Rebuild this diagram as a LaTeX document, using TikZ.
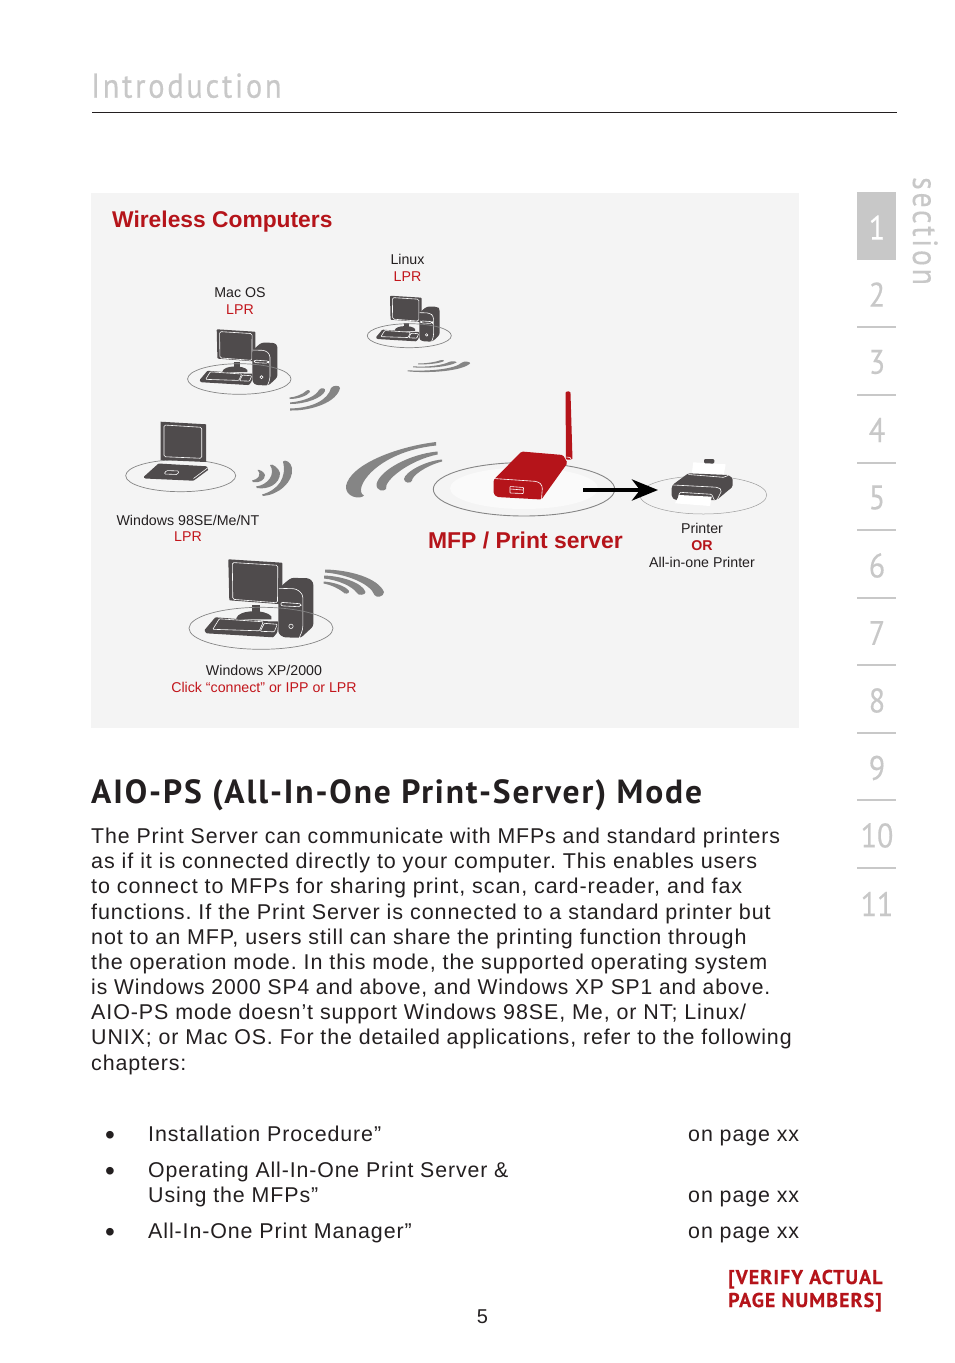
\documentclass[tikz,border=0pt]{standalone}
\usepackage{fontspec}
\setmainfont{Liberation Sans}
\newfontfamily\bodyfont[LetterSpace=4.2]{Liberation Sans}
\newfontfamily\dinfont[LetterSpace=8,FakeStretch=.88,FakeBold=.4]{PT Sans}
\newfontfamily\secfont[LetterSpace=8,FakeStretch=.85,FakeBold=.2]{PT Sans}
\newfontfamily\dinhead[LetterSpace=5.6,BoldFont={PT Sans Bold}]{PT Sans}
\newfontfamily\dinfoot[LetterSpace=5.2,BoldFont={PT Sans Bold},BoldFeatures={FakeBold=.3}]{PT Sans}
\newfontfamily\dinnum[FakeStretch=.88,FakeBold=.3]{PT Sans}
\usetikzlibrary{shapes.geometric,arrows.meta,calc}
\definecolor{panel}{HTML}{F4F4F4}
\definecolor{brick}{HTML}{B5141A}
\definecolor{labelred}{HTML}{C2161C}
\definecolor{ink}{HTML}{231F20}
\definecolor{icon}{HTML}{4F4B4C}
\definecolor{wavec}{HTML}{858585}
\definecolor{tabgrey}{HTML}{C8C8C8}
\tikzset{
 x=1pt,y=-1pt,
 lab/.style={font=\fontsize{14.2}{17}\selectfont,text=ink,align=center,inner sep=0pt},
 redlab/.style={font=\fontsize{14.2}{17}\selectfont,text=labelred,align=center,inner sep=0pt},
 body/.style={font=\fontsize{21.4}{25.2}\selectfont\bodyfont,text=ink,anchor=base west,inner sep=0pt},
 fitx/.style={transform shape,xscale=#1},
 bulletmark/.style={font=\fontsize{28}{28}\selectfont,text=ink,anchor=base west,inner sep=0pt},
 numtab/.style={font=\fontsize{34}{34}\selectfont\dinnum,text=tabgrey,inner sep=0pt},
 disc/.style={draw=#1,ellipse,inner sep=0pt,line width=.7pt},
 wave/.style={fill=wavec,draw=none},
 whiteline/.style={draw=white,line width=.6pt,line join=round},
 computer/.pic={
  % monitor
  \fill[icon,rounded corners=.8] (0,0)--(54,3.4)--(54,45)--(1,41)--cycle;
  \draw[whiteline,rounded corners=1.5] (4,3.2)--(49.5,6)--(49.2,43.5)--(4.5,40)--cycle;
  % stand
  \fill[icon] (24,46)--(32,46)--(32,56)--(24,56)--cycle;
  \fill[icon] (8,59) .. controls (10,50) and (38,50) .. (43,57) -- (43,60) -- (8,60) -- cycle;
  % keyboard
  \fill[icon,rounded corners=.8] (-24,71)--(-13,58)--(40,62)--(50,62)--(49,73)--(45,78)--(-22,74)--cycle;
  \draw[whiteline,rounded corners=.8] (-15.5,70)--(-9,59.5)--(35,62.5)--(31,71.5)--cycle;
  \draw[whiteline,rounded corners=.8] (36,64)--(49,65)--(46,72.5)--(32,72)--cycle;
  % tower
  \fill[icon,rounded corners=2.5] (50,30)--(56,24)--(63,18.5)--(81,19)--(85,23)--(85,67)--(72.5,78.5)--(55,78)--(50,74)--cycle;
  \draw[whiteline,rounded corners=3] (50.5,29)--(68,29.5)--(74.5,35)--(74.5,70)--(71,78.5);
  \draw[whiteline,rounded corners=2] (52.5,43)--(73,44.5)--(72.5,47.5)--(52.5,46.5)--cycle;
  \draw[whiteline] (62.7,67) circle[radius=2.2];
 },
}
\begin{document}
\frenchspacing
\begin{tikzpicture}
\useasboundingbox (0,0) rectangle (954,1363);
\fill[white] (0,0) rectangle (954,1363);
% header
\node[font=\fontsize{34.5}{34.5}\selectfont\dinfont,text=tabgrey,anchor=base west,inner sep=0pt] (hdr) at (91,97.7) {Introduction};
\coordinate (ruleL) at (92,112.5); \coordinate (ruleR) at (897,112.5);
\draw[ink,line width=.8pt] (ruleL)--(ruleR);
% panel
\fill[panel] (91,193) rectangle (799,728);
\node[font=\fontsize{22.8}{26}\selectfont\bfseries,text=brick,anchor=base west,inner sep=0pt] (wc) at (112,227.5) {Wireless Computers};

% labels
\node[lab] (linuxA) at (407.5,259) {Linux};
\node[redlab] (linuxB) at (407.5,276.7) {LPR};
\node[lab] (macA) at (240,292.7) {Mac OS};
\node[redlab] (macB) at (240,309.7) {LPR};
\node[lab] (winA) at (188,520) {Windows 98SE/Me/NT};
\node[redlab] (winB) at (188,536.7) {LPR};
\node[lab] (xpA) at (264,670.5) {Windows XP/2000};
\node[redlab] (xpB) at (264,687) {Click “connect” or IPP or LPR};
\node[font=\fontsize{22.9}{26}\selectfont\bfseries,text=brick,inner sep=0pt,anchor=base] (mfp) at (525.5,548) {MFP / Print server};
\node[lab] (prA) at (702,528) {Printer};
\node[redlab,text=brick,font=\fontsize{14.2}{17}\selectfont\bfseries] (prB) at (702,545.7) {OR};
\node[lab] (prC) at (702,562) {All-in-one Printer};

% XP, Mac, Linux computers
\pic at (228.3,559.3) {computer};
\node[disc=wavec,minimum width=144pt,minimum height=42pt] (xpdisc) at (261,628.3) {};
\pic[scale=.715] at (216.7,329.3) {computer};
\node[disc=wavec,minimum width=103.4pt,minimum height=30.6pt] (macdisc) at (239.3,379) {};
\pic[scale=.585] at (390,295.7) {computer};
\node[disc=wavec,minimum width=84pt,minimum height=24pt] (linuxdisc) at (409.3,335.7) {};

% laptop
\node[disc=wavec,minimum width=110pt,minimum height=32pt] (lapdisc) at (180.7,475.7) {};
\fill[icon] (160.7,421.7)--(206,424.3)--(206,462)--(160.7,460)--cycle;
\draw[whiteline,rounded corners=1.5] (164,425)--(201.7,427.3)--(201.7,458.3)--(164,456.7)--cycle;
\fill[icon,rounded corners=.8] (143.5,477)--(158.5,463.5)--(206.7,466.3)--(208.5,469.7)--(193.5,480.7)--(145,478.5)--cycle;
\draw[whiteline] (193.5,478.5)--(207.5,468);
\draw[whiteline,rounded corners=1.2] (166.5,470.5)--(179,471)--(177.5,474.5)--(164,474)--cycle;

% MFP
\node[disc=wavec,line width=.9pt,minimum width=181.4pt,minimum height=53.4pt] (mfpdisc) at (524,489.3) {};
\fill[white,opacity=.55] (524,488.3) ellipse[x radius=74,y radius=20.7];
\fill[brick,rounded corners=.8] (565.5,392.5) .. controls (567,391) and (570,391) .. (570.5,393) -- (572.5,459.5) -- (566,459.5) -- cycle;
\fill[brick,rounded corners=1.5] (493.5,480)--(521.5,451.5)--(563,455)--(567.5,463)--(543.5,496.5)--(541.5,499.5)--(497,497)--(493.5,493.5)--cycle;
\draw[whiteline,rounded corners=3] (493.5,478.5)--(538,481.5)--(542.5,485.5)--(541.5,499.5);
\draw[whiteline,rounded corners=.5] (510,486.5)--(523.5,487.5)--(523.3,493.5)--(510,493)--cycle;
\draw[whiteline] (510.5,489)--(523,490);
\draw[whiteline] (566.5,457)--(570,457.5)--(571.5,460);

% printer
\node[disc=wavec!80,line width=.5pt,minimum width=127pt,minimum height=38pt] (prdisc) at (703.3,495) {};
\fill[white] (693.3,462.3)--(725.7,464.3)--(723.3,476.7)--(691.7,474.3)--cycle;
\fill[icon,rounded corners=1.2] (704,459)--(714.3,459)--(714.3,463.6)--(704,463.3)--cycle;
\fill[icon,rounded corners=1.5] (671.7,486.7)--(673.3,484.3)--(688.3,473.3)--(728.3,475)--(732.7,478.3)--(732.7,486.7)--(716.7,500)--(675,500)--(671.7,496.7)--cycle;
\draw[whiteline] (688.5,474.5)--(723.3,477.3)--(728,475.5);
\draw[whiteline,rounded corners=2] (673.3,485)--(718,487.3)--(722,490)--(717,500);
\fill[white] (679.3,495)--(711.7,496.7)--(710,506)--(675,503.3)--cycle;
\draw[whiteline,rounded corners=1] (678.3,496.7)--(680,492.3)--(711.7,494.3)--(714.3,500);

% connector
\coordinate (arrowtail) at (583,490);
\coordinate (arrowhead) at (658,490);
\draw[black,line width=4.6pt,-{Stealth[length=26pt,width=21pt,inset=8pt]}] (arrowtail)--(arrowhead);

% big waves
\fill[wave] (436,442) .. controls (395,447) and (350,465) .. (346,486) .. controls (345,497) and (360,500) .. (364,495.5) .. controls (352,490) and (375,452) .. (436,445.5) -- cycle;
\fill[wave] (437.5,451.5) .. controls (410,454) and (380,470) .. (376.5,484) .. controls (376,491) and (384,492) .. (386,489) .. controls (384,480) and (410,460) .. (437.5,454.5) -- cycle;
\fill[wave] (442,459.5) .. controls (425,461) and (405,472) .. (404,479) .. controls (404,483) and (411,484) .. (412,480.5) .. controls (412,476) and (425,466) .. (442,461.5) -- cycle;

% Mac waves
\fill[wave] (290,408.5) .. controls (312,408) and (328,400) .. (331,388) .. controls (333,385) and (340,385) .. (340,388) .. controls (337,402) and (312,411) .. (290,410.5) -- cycle;
\fill[wave] (290,402.5) .. controls (305,401) and (316,396) .. (319,390) .. controls (321,387) and (326,388) .. (325,391) .. controls (322,398) and (306,404) .. (290,404) -- cycle;
\fill[wave] (289.5,397.5) .. controls (296,397) and (303,394) .. (306,391) .. controls (308,389) and (311,390) .. (310,392) .. controls (307,396) and (298,399) .. (289.5,399) -- cycle;

% Linux waves
\fill[wave] (407.5,370.3) .. controls (430,371.5) and (455,369) .. (462,362.5) .. controls (464,361) and (471,361.5) .. (470,363.5) .. controls (462,371) and (430,373.5) .. (407.5,371.3) -- cycle;
\fill[wave] (413,366.3) .. controls (428,367.5) and (443,365) .. (449,362) .. controls (451,361) and (457,361) .. (456.5,362.5) .. controls (448,367) and (428,368.5) .. (413,367.3) -- cycle;
\fill[wave] (418,363.5) .. controls (426,363.5) and (436,362) .. (440,360.3) .. controls (442,359.5) and (445,360) .. (444,361) .. controls (440,363.5) and (426,364.8) .. (418,364.3) -- cycle;

% laptop waves
\fill[wave] (262,494.5) .. controls (278,490) and (287,478) .. (283,461.5) .. controls (285,459) and (291,462) .. (292,468) .. controls (294,482) and (278,495) .. (263,496) -- cycle;
\fill[wave] (256,486.5) .. controls (268,485) and (276,474) .. (270,465) .. controls (272,463) and (279,468) .. (280,473) .. controls (280,484) and (268,490) .. (257,488) -- cycle;
\fill[wave] (252,480.5) .. controls (258,479.5) and (262,475) .. (257.5,470) .. controls (259,469) and (264.5,472) .. (265,475) .. controls (265,480) and (259,483.5) .. (253,482) -- cycle;

% XP waves
\fill[wave] (325,569.5) .. controls (350,570) and (378,578) .. (384,592) .. controls (384,597) and (376,598) .. (374.5,595) .. controls (370,583) and (345,574) .. (325,572.5) -- cycle;
\fill[wave] (324,575.5) .. controls (340,576) and (362,582) .. (365.5,592) .. controls (366,595) and (358,596) .. (357,593) .. controls (352,586) and (338,580) .. (324,578.5) -- cycle;
\fill[wave] (323.5,581.5) .. controls (333,582) and (346,586) .. (349,591) .. controls (350,594) and (344,594.5) .. (343,592) .. controls (339,589) and (332,585) .. (323.5,583.5) -- cycle;

% heading
\node[font=\fontsize{33.5}{34}\selectfont\dinhead\bfseries,text=ink,anchor=base west,inner sep=0pt] (head) at (91,803) {AIO-PS (All-In-One Print-Server) Mode};

% body text
\node[body,fitx=.9957] (b1) at (91,843.4) {The Print Server can communicate with MFPs and standard printers};
\node[body,fitx=1.006] (b2) at (91,868.6) {as if it is connected directly to your computer. This enables users};
\node[body,fitx=1.006] (b3) at (91,893.8) {to connect to MFPs for sharing print, scan, card-reader, and fax};
\node[body,fitx=1.0074] (b4) at (91,919) {functions. If the Print Server is connected to a standard printer but};
\node[body,fitx=1.0046] (b5) at (91,944.2) {not to an MFP, users still can share the printing function through};
\node[body,fitx=1.0045] (b6) at (91,969.4) {the operation mode. In this mode, the supported operating system};
\node[body,fitx=.984] (b7) at (91,994.6) {is Windows 2000 SP4 and above, and Windows XP SP1 and above.};
\node[body,fitx=1.003] (b8) at (91,1019.6) {AIO-PS mode doesn’t support Windows 98SE, Me, or NT; Linux/};
\node[body,fitx=.9985] (b9) at (91,1044.8) {UNIX; or Mac OS. For the detailed applications, refer to the following};
\node[body] (b10) at (91,1070) {chapters:};

% list
\node[bulletmark] (d1) at (105,1144) {•};
\node[body] (l1) at (148,1141.6) {Installation Procedure”};
\node[body] (p1) at (688,1141.6) {on page xx};
\node[bulletmark] (d2) at (105,1180) {•};
\node[body,fitx=.994] (l2) at (148,1177.6) {Operating All-In-One Print Server \&};
\node[body] (l2b) at (148,1202.6) {Using the MFPs”};
\node[body] (p2) at (688,1202.6) {on page xx};
\node[bulletmark] (d3) at (105,1241) {•};
\node[body] (l3) at (148,1238.6) {All-In-One Print Manager”};
\node[body] (p3) at (688,1238.6) {on page xx};

% footer
\node[font=\fontsize{20}{23}\selectfont\dinfoot\bfseries,text=brick,anchor=base west,inner sep=0pt] (v1) at (728,1284) {[VERIFY ACTUAL};
\node[font=\fontsize{20}{23}\selectfont\dinfoot\bfseries,text=brick,anchor=base west,inner sep=0pt] (v2) at (728,1307) {PAGE NUMBERS]};
\node[font=\fontsize{20}{23}\selectfont,text=ink,inner sep=0pt,anchor=base] (pg) at (482.5,1323) {5};

% section tabs
\fill[tabgrey] (857,192) rectangle (896,260);
\node[numtab,text=white] (t1) at (877,227.5) {1};
\foreach \n/\yy in {2/294.5,3/362,4/430,5/497.5,6/565.5,7/633,8/700.5,9/768,10/835.5,11/904}{
  \node[numtab] (t\n) at (877,\yy) {\n};
}
\foreach \yy in {327,394.5,462.5,530,597.5,665,732.5,800,868}{
  \fill[tabgrey] (857,\yy-1) rectangle (896,\yy+1);
}
\node[font=\fontsize{35}{35}\selectfont\secfont,text=tabgrey,rotate=-90,inner sep=0pt,anchor=base west] (sec) at (913,177) {section};
\end{tikzpicture}
\end{document}
